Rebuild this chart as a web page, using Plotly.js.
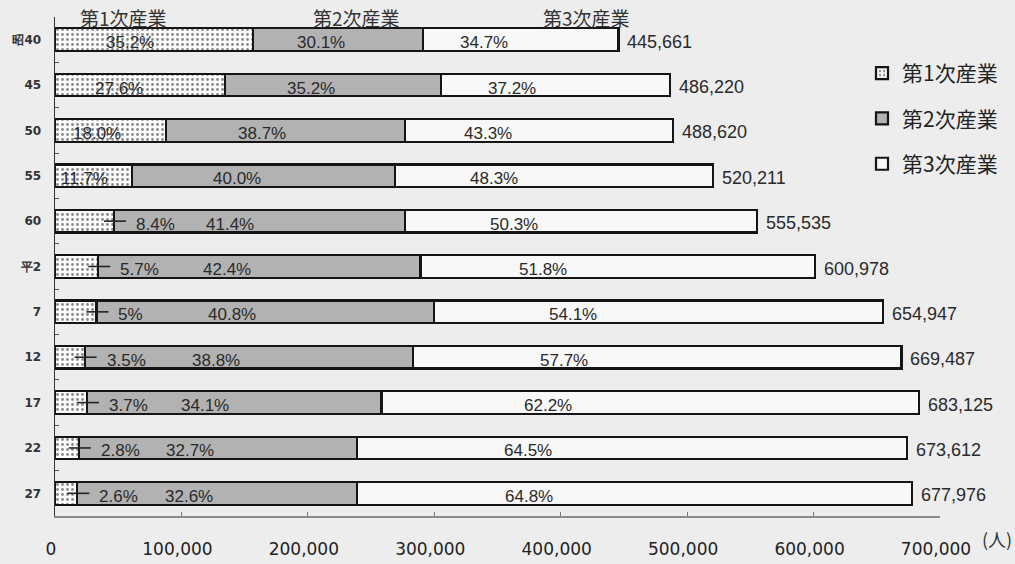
<!DOCTYPE html>
<html><head><meta charset="utf-8">
<script src="https://cdn.plot.ly/plotly-3.0.1.min.js"></script>
<style>html,body{margin:0;padding:0;background:#ededed;} #chart{width:1015px;height:564px;}</style>
</head><body><div id="chart"></div>
<script>
// ---- data ----
const categories = ["昭40","45","50","55","60","平2","7","12","17","22","27"];
const totals = [445661,486220,488620,520211,555535,600978,654947,669487,683125,673612,677976];
const sec1Pct = ["35.2","27.6","18.0","11.7","8.4","5.7","5","3.5","3.7","2.8","2.6"];
const sec2Pct = ["30.1","35.2","38.7","40.0","41.4","42.4","40.8","38.8","34.1","32.7","32.6"];
const sec3Pct = ["34.7","37.2","43.3","48.3","50.3","51.8","54.1","57.7","62.2","64.5","64.8"];
const seriesNames = ["第1次産業","第2次産業","第3次産業"];
const xTickVals = [0,100000,200000,300000,400000,500000,600000,700000];
const unitLabel = "(人)";

// ---- derived values ----
const s1 = totals.map((t,i)=> t*parseFloat(sec1Pct[i])/100);
const s2 = totals.map((t,i)=> t*parseFloat(sec2Pct[i])/100);
const s3 = totals.map((t,i)=> t - s1[i] - s2[i]);
const fmt = v => v.toLocaleString('en-US');

// plot-area geometry (pixels) used to convert layout positions to paper coords
const W = 1015, H = 564, L = 55, R = 75, T = 17, B = 48;
const pw = W-L-R, ph = H-T-B;
const px2x = p => (p-L)/pw;
const py2y = p => (H-B-p)/ph;

const lineSty = {color:'#151515', width:2.2};
const traces = [
  {type:'bar', orientation:'h', name:seriesNames[0], y:categories, x:s1, legendgroup:'a',
   marker:{color:'#fafafa', line:lineSty, pattern:{shape:'.', fgcolor:'#8a8a8a', bgcolor:'#fafafa', size:5, solidity:0.25}}, hoverinfo:'skip'},
  {type:'bar', orientation:'h', name:seriesNames[1], y:categories, x:s2, legendgroup:'b',
   marker:{color:'#b2b2b2', line:lineSty}, hoverinfo:'skip'},
  {type:'bar', orientation:'h', name:seriesNames[2], y:categories, x:s3, legendgroup:'c',
   marker:{color:'#f8f8f8', line:lineSty}, hoverinfo:'skip'}
];

const pctFont = {family:'Liberation Sans, Arial, sans-serif', size:17, color:'#2a2a2a'};
const annotations = [];
const shapes = [];
categories.forEach((c,i)=>{
  const b1 = s1[i], b2 = s1[i]+s2[i], b3 = totals[i];
  // sector 1
  if (parseFloat(sec1Pct[i]) >= 10) {
    annotations.push({x: b1*0.38, y:i, text: sec1Pct[i]+'%', showarrow:false, font:pctFont, yshift:-3});
  } else {
    shapes.push({type:'line', xref:'x', yref:'y', xsizemode:'pixel', xanchor:b1, x0:-10, x1:12,
      y0:i, y1:i, line:{color:'#222', width:1.6}});
    annotations.push({x:b1, y:i, text: sec1Pct[i]+'%', showarrow:false, font:pctFont,
      xanchor:'left', xshift:20, yshift:-3});
  }
  annotations.push({x: b1 + (b2-b1)*0.40, y:i, text: sec2Pct[i]+'%', showarrow:false, font:pctFont, yshift:-3});
  annotations.push({x: b2 + (b3-b2)*0.31, y:i, text: sec3Pct[i]+'%', showarrow:false, font:pctFont, yshift:-3});
  annotations.push({x: b3, y:i, text: fmt(totals[i]), showarrow:false, xanchor:'left', xshift:7, yshift:-2,
    font:{family:'Liberation Sans, Arial, sans-serif', size:18, color:'#2a2a2a'}});
});

const topFont = {family:'Noto Sans CJK JP, sans-serif', size:19, color:'#333'};
const topX = [123, 356, 586];
seriesNames.forEach((n,k)=>{
  annotations.push({xref:'paper', yref:'paper', x: px2x(topX[k]), y: py2y(17), text:n,
    showarrow:false, font:topFont, xanchor:'center', yanchor:'middle'});
});
annotations.push({xref:'paper', yref:'paper', x: px2x(997), y: py2y(539), text:unitLabel,
  showarrow:false, font:{family:'Noto Sans CJK JP, sans-serif', size:18, color:'#333'}, xanchor:'center', yanchor:'middle'});

const layout = {
  width:W, height:H,
  paper_bgcolor:'#ededed', plot_bgcolor:'rgba(0,0,0,0)',
  margin:{l:L, r:R, t:T, b:B, autoexpand:false},
  barmode:'stack', bargap:0.5,
  showlegend:true,
  legend:{xref:'paper', yref:'paper', x:px2x(862), y:py2y(53), xanchor:'left', yanchor:'top',
    bgcolor:'rgba(0,0,0,0)', traceorder:'grouped', tracegroupgap:15,
    font:{family:'Noto Sans CJK JP, sans-serif', size:21, color:'#222'}},
  xaxis:{range:[0,700000], tickvals:xTickVals, ticktext:xTickVals.map(fmt), ticks:'inside', ticklen:4,
    tickcolor:'#777', showline:true, linecolor:'#8a8a8a', linewidth:1.5, showgrid:false, zeroline:false,
    tickfont:{family:'DejaVu Sans, Verdana, sans-serif', size:17, color:'#222'}, ticklabelstandoff:17, ticklabelshift:-4,
    fixedrange:true},
  yaxis:{type:'category', range:[10.5,-0.5], tickson:'boundaries', ticks:'inside', ticklen:4, tickcolor:'#555',
    showline:true, linecolor:'#333', linewidth:1.5, showgrid:false, zeroline:false,
    tickfont:{family:'DejaVu Sans, sans-serif', size:12, color:'#333', weight:'bold'}, ticklabelstandoff:10,
    fixedrange:true},
  annotations: annotations,
  shapes: shapes
};
Plotly.newPlot('chart', traces, layout, {displayModeBar:false, staticPlot:true});
</script>
</body></html>
